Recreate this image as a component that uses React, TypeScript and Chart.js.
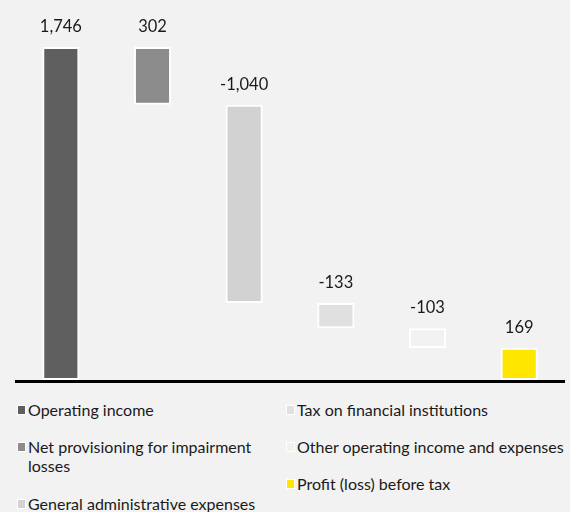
import React, { useEffect, useRef } from "react";
import { Chart, registerables } from "chart.js";

Chart.register(...registerables);

const categories = [
  "Operating income",
  "Net provisioning for impairment losses",
  "General administrative expenses",
  "Tax on financial institutions",
  "Other operating income and expenses",
  "Profit (loss) before tax",
];
const displayValues = [1746, 302, -1040, -133, -103, 169];
const barLows = [0, 1444, 404, 271, 168, 0];
const barHighs = [1746, 1746, 1444, 404, 271, 169];
const barColors = ["#5f5f5f", "#8c8c8c", "#d2d2d2", "#e0e0e0", "#f2f2f2", "#ffe600"];

const FONT = "Lato, 'Open Sans', sans-serif";

const fmt = (v: number) => (v < 0 ? "-" : "") + Math.abs(v).toLocaleString("en-US");

const labelPlugin = {
  id: "wfLabels",
  afterDatasetsDraw(chart: any) {
    const ctx = chart.ctx;
    const meta = chart.getDatasetMeta(0);
    ctx.save();
    ctx.font = `16.5px ${FONT}`;
    ctx.fillStyle = "#1a1a1a";
    ctx.textAlign = "center";
    ctx.textBaseline = "alphabetic";
    meta.data.forEach((bar: any, i: number) => {
      const top = Math.min(bar.y, bar.base);
      ctx.fillText(fmt(displayValues[i]), bar.x, top - 15);
    });
    // axis line
    const area = chart.chartArea;
    ctx.fillStyle = "#000";
    ctx.fillRect(area.left, area.bottom, chart.width - area.left - 5, 3);
    ctx.restore();
  },
};

export default function App() {
  const ref = useRef<HTMLCanvasElement>(null);
  useEffect(() => {
    document.body.style.margin = "0";
    document.body.style.background = "#f2f2f2";
    const chart = new Chart(ref.current!, {
      type: "bar",
      data: {
        labels: categories,
        datasets: [
          {
            data: barLows.map((lo, i) => [lo, barHighs[i]]) as any,
            backgroundColor: barColors,
            borderColor: "#ffffff",
            borderWidth: 2,
            borderSkipped: false,
            barPercentage: 0.405,
            categoryPercentage: 1,
          },
        ],
      },
      options: {
        responsive: false,
        animation: false,
        layout: { padding: { left: 15, right: 5, top: 0, bottom: 10 } },
        plugins: { legend: { display: false }, tooltip: { enabled: false } },
        scales: {
          x: { display: false },
          y: { display: false, min: 0, max: 1993 },
        },
      },
      plugins: [labelPlugin],
    });
    return () => chart.destroy();
  }, []);

  const marker = (c: string) => (
    <span
      style={{
        position: "absolute",
        left: -11,
        top: 5,
        width: 7,
        height: 8,
        background: c,
        border: "1px solid #fff",
      }}
    />
  );
  const item = (i: number, left: number, top: number, width: number) => (
    <div
      key={i}
      style={{
        position: "absolute",
        left,
        top,
        width,
        fontSize: 16,
        lineHeight: "19px",
        color: "#1a1a1a",
        whiteSpace: width > 300 ? "nowrap" : "normal",
      }}
    >
      {marker(barColors[i])}
      {categories[i]}
    </div>
  );

  return (
    <div
      style={{
        position: "relative",
        width: 570,
        height: 512,
        background: "#f2f2f2",
        overflow: "hidden",
        fontFamily: FONT,
      }}
    >
      <canvas ref={ref} width={570} height={390} style={{ display: "block" }} />
      {item(0, 28, 400, 235)}
      {item(1, 28, 437, 235)}
      {item(2, 28, 494, 235)}
      {item(3, 297, 400, 400)}
      {item(4, 297, 437, 400)}
      {item(5, 297, 474, 400)}
    </div>
  );
}
